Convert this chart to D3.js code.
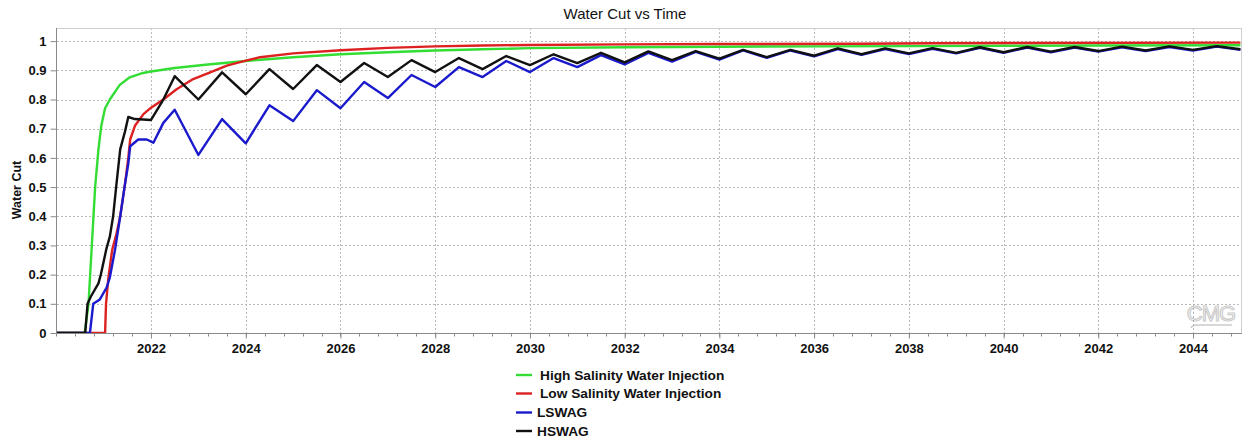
<!DOCTYPE html>
<html>
<head>
<meta charset="utf-8">
<script src="https://cdn.jsdelivr.net/npm/d3@7"></script>
<style>
  html, body { margin: 0; padding: 0; background: #fff; }
  svg { display: block; font-family: "Liberation Sans", Arial, sans-serif; }
</style>
</head>
<body>
<svg id="chart" width="1248" height="441"></svg>
<script>
// ---------------- DATA ----------------
const seriesNames = ["High Salinity Water Injection", "Low Salinity Water Injection", "LSWAG", "HSWAG"];
const seriesColors = ["#33dd33", "#dd2020", "#1a1acc", "#111111"];

const xTickValues = [2022, 2024, 2026, 2028, 2030, 2032, 2034, 2036, 2038, 2040, 2042, 2044];
const yTickValues = [0, 0.1, 0.2, 0.3, 0.4, 0.5, 0.6, 0.7, 0.8, 0.9, 1];
const yTickLabels = ["0", "0.1", "0.2", "0.3", "0.4", "0.5", "0.6", "0.7", "0.8", "0.9", "1"];

// [decimal year, water cut]
const highSalinityWI = [
  [2020.00,0],[2020.60,0],[2020.68,0.10],[2020.75,0.30],[2020.82,0.50],[2020.89,0.63],[2020.95,0.71],
  [2021.03,0.77],[2021.13,0.80],[2021.34,0.85],[2021.55,0.876],[2021.83,0.891],[2022.00,0.896],
  [2022.50,0.908],[2023.20,0.92],[2024.00,0.932],[2025.00,0.945],[2026.00,0.955],[2027.00,0.962],
  [2028.00,0.968],[2029.00,0.972],[2030.00,0.976],[2032.00,0.979],[2034.00,0.981],[2036.00,0.982],
  [2038.00,0.983],[2040.00,0.984],[2042.00,0.985],[2045.00,0.986]
];

const lowSalinityWI = [
  [2020.00,0],[2021.03,0],[2021.05,0.10],[2021.10,0.19],[2021.18,0.285],[2021.27,0.34],[2021.35,0.40],
  [2021.45,0.51],[2021.52,0.60],[2021.56,0.663],[2021.66,0.71],[2021.84,0.75],[2022.00,0.772],
  [2022.26,0.80],[2022.54,0.835],[2022.89,0.87],[2023.25,0.893],[2023.60,0.916],[2024.00,0.933],
  [2024.30,0.945],[2025.00,0.958],[2026.00,0.969],[2027.00,0.977],[2028.00,0.982],[2029.00,0.985],
  [2030.00,0.987],[2032.00,0.989],[2034.00,0.990],[2037.00,0.991],[2038.50,0.993],[2045.00,0.995]
];

const lswag = [
  [2020.00,0],[2020.71,0],[2020.78,0.10],[2020.92,0.115],[2021.06,0.155],[2021.13,0.19],[2021.24,0.285],
  [2021.35,0.40],[2021.45,0.51],[2021.52,0.58],[2021.56,0.64],[2021.73,0.663],[2021.91,0.663],
  [2022.05,0.652],[2022.26,0.72],[2022.50,0.765],[2023.00,0.61],[2023.50,0.733],[2024.00,0.65],
  [2024.50,0.78],[2025.00,0.726],[2025.50,0.832],[2026.00,0.77],[2026.50,0.86],[2027.00,0.805],
  [2027.50,0.884],[2028.00,0.843],[2028.50,0.911],[2029.00,0.877],[2029.50,0.932],[2030.00,0.894],
  [2030.50,0.942],[2031.00,0.911],[2031.50,0.952],[2032.00,0.92],[2032.50,0.96],[2033.00,0.93],
  [2033.50,0.963],[2034.00,0.937],[2034.50,0.968],[2035.00,0.943],[2035.50,0.968],[2036.00,0.948],
  [2036.50,0.973],[2037.00,0.953],[2037.50,0.973],[2038.00,0.956],[2038.50,0.974],[2039.00,0.958],
  [2039.50,0.977],[2040.00,0.96],[2040.50,0.978],[2041.00,0.962],[2041.50,0.978],[2042.00,0.964],
  [2042.50,0.979],[2043.00,0.966],[2043.50,0.98],[2044.00,0.968],[2044.50,0.981],[2045.00,0.97]
];

const hswag = [
  [2020.00,0],[2020.61,0],[2020.66,0.10],[2020.73,0.125],[2020.89,0.17],[2020.94,0.20],[2021.06,0.29],
  [2021.13,0.33],[2021.20,0.40],[2021.27,0.51],[2021.35,0.63],[2021.45,0.69],[2021.52,0.74],
  [2021.66,0.733],[2022.00,0.73],[2022.26,0.80],[2022.50,0.88],[2023.00,0.80],[2023.50,0.893],
  [2024.00,0.818],[2024.50,0.904],[2025.00,0.836],[2025.50,0.918],[2026.00,0.86],[2026.50,0.925],
  [2027.00,0.877],[2027.50,0.935],[2028.00,0.894],[2028.50,0.942],[2029.00,0.904],[2029.50,0.949],
  [2030.00,0.918],[2030.50,0.955],[2031.00,0.925],[2031.50,0.96],[2032.00,0.927],[2032.50,0.965],
  [2033.00,0.935],[2033.50,0.966],[2034.00,0.94],[2034.50,0.97],[2035.00,0.945],[2035.50,0.97],
  [2036.00,0.95],[2036.50,0.975],[2037.00,0.955],[2037.50,0.975],[2038.00,0.958],[2038.50,0.976],
  [2039.00,0.96],[2039.50,0.979],[2040.00,0.962],[2040.50,0.98],[2041.00,0.964],[2041.50,0.98],
  [2042.00,0.966],[2042.50,0.981],[2043.00,0.968],[2043.50,0.982],[2044.00,0.97],[2044.50,0.983],
  [2045.00,0.972]
];

const allSeries = [highSalinityWI, lowSalinityWI, lswag, hswag];

// ---------------- LAYOUT ----------------
const svg = d3.select("#chart");
const plot = { left: 57, right: 1241, top: 28, bottom: 333 };

const x = d3.scaleLinear().domain([2020, 2045]).range([plot.left - 0.7, plot.right - 0.6]);
const y = d3.scaleLinear().domain([0, 1.045]).range([plot.bottom, plot.top]);

// title
svg.append("text")
  .attr("x", 625).attr("y", 19)
  .attr("text-anchor", "middle")
  .style("font-size", "15px")
  .style("fill", "#111")
  .text("Water Cut vs Time");

// y label
svg.append("text")
  .attr("transform", "translate(21,190) rotate(-90)")
  .attr("text-anchor", "middle")
  .style("font-size", "12.5px").style("font-weight", "bold")
  .style("fill", "#111")
  .text("Water Cut");

// grid
const grid = svg.append("g");
grid.selectAll("line.h").data(yTickValues).join("line")
  .attr("x1", plot.left).attr("x2", plot.right)
  .attr("y1", d => Math.round(y(d)) + 0.5).attr("y2", d => Math.round(y(d)) + 0.5)
  .attr("stroke", "#b8b8b8").attr("stroke-dasharray", "2,2").attr("stroke-width", 1);
grid.selectAll("line.v").data(xTickValues).join("line")
  .attr("x1", d => Math.round(x(d)) + 0.5).attr("x2", d => Math.round(x(d)) + 0.5)
  .attr("y1", plot.top).attr("y2", plot.bottom)
  .attr("stroke", "#b8b8b8").attr("stroke-dasharray", "2,2").attr("stroke-width", 1);

// frame (top/right light)
svg.append("line").attr("x1", plot.left).attr("x2", plot.right + 1)
  .attr("y1", plot.top + 0.5).attr("y2", plot.top + 0.5).attr("stroke", "#cfcfcf");
svg.append("line").attr("x1", plot.right + 0.5).attr("x2", plot.right + 0.5)
  .attr("y1", plot.top).attr("y2", plot.bottom).attr("stroke", "#cfcfcf");

// clip
svg.append("clipPath").attr("id", "clip").append("rect")
  .attr("x", plot.left).attr("y", plot.top)
  .attr("width", plot.right - plot.left).attr("height", plot.bottom - plot.top);

// lines
const lineGen = d3.line().x(d => x(d[0])).y(d => y(d[1]));
const linesG = svg.append("g").attr("clip-path", "url(#clip)");
allSeries.forEach((s, i) => {
  linesG.append("path")
    .datum(s)
    .attr("d", lineGen)
    .attr("fill", "none")
    .attr("stroke", seriesColors[i])
    .attr("stroke-width", 2.4)
    .attr("stroke-linejoin", "round");
});

// x axis
const xAxis = d3.axisBottom(x).tickValues(xTickValues).tickFormat(d3.format("d"))
  .tickSizeInner(5).tickSizeOuter(0).tickPadding(5);
const gx = svg.append("g").attr("transform", `translate(0,${plot.bottom + 0.5})`).call(xAxis);
gx.select(".domain").attr("stroke", "#8a8a8a").attr("d", `M${plot.left},0H${plot.right + 1}`);
gx.selectAll(".tick line").attr("stroke", "#8a8a8a");
gx.selectAll(".tick text").style("font-size", "13px").style("font-weight", "bold")
  .style("font-family", "Liberation Sans, Arial, sans-serif").attr("fill", "#111");

// minor x ticks
const minorTicks = d3.range(0, 63).map(i => 2020 + i * 0.4).filter(v => v <= 2045.01);
svg.append("g").selectAll("line").data(minorTicks).join("line")
  .attr("x1", d => Math.round(x(d)) + 0.5).attr("x2", d => Math.round(x(d)) + 0.5)
  .attr("y1", plot.bottom).attr("y2", plot.bottom + 3.5)
  .attr("stroke", "#8a8a8a");

// y axis
const yAxis = d3.axisLeft(y).tickValues(yTickValues).tickFormat((d, i) => yTickLabels[i])
  .tickSizeInner(6).tickSizeOuter(0).tickPadding(4);
const gy = svg.append("g").attr("transform", `translate(${plot.left - 0.5},0)`).call(yAxis);
gy.select(".domain").attr("stroke", "#8a8a8a").attr("d", `M0,${plot.top}V${plot.bottom + 1}`);
gy.selectAll(".tick line").attr("stroke", "#8a8a8a");
gy.selectAll(".tick text").style("font-size", "13px").style("font-weight", "bold")
  .style("font-family", "Liberation Sans, Arial, sans-serif").attr("fill", "#111");

// CMG watermark
const logo = svg.append("g").attr("opacity", 0.5);
logo.append("text").attr("x", 1211).attr("y", 321)
  .attr("text-anchor", "middle")
  .style("font-size", "22px").style("letter-spacing", "-1px")
  .attr("fill", "none").attr("stroke", "#999").attr("stroke-width", 1.2)
  .text("CMG");
logo.append("path").attr("d", "M1191,328 Q1192,325 1198,325 L1232,325")
  .attr("fill", "none").attr("stroke", "#999").attr("stroke-width", 1.6);

// legend
const legendY = [375, 393.5, 412.5, 431];
const legendTextX = [540, 540, 537, 537];
const legend = svg.append("g");
seriesNames.forEach((name, i) => {
  legend.append("line")
    .attr("x1", 516).attr("x2", 532)
    .attr("y1", legendY[i]).attr("y2", legendY[i])
    .attr("stroke", seriesColors[i]).attr("stroke-width", 2.4);
  legend.append("text")
    .attr("x", legendTextX[i]).attr("y", legendY[i]).attr("dy", "0.36em")
    .style("font-size", "13.7px").style("font-weight", "bold").attr("fill", "#111")
    .text(name);
});
</script>
</body>
</html>
